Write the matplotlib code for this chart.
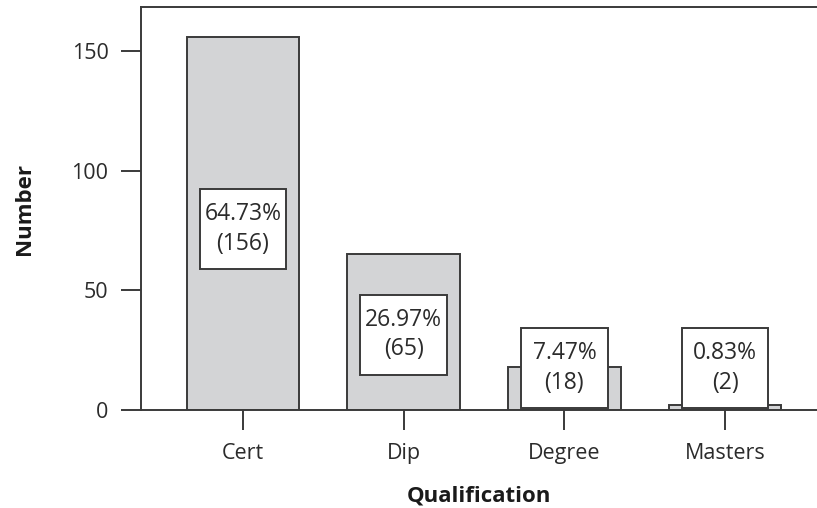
import matplotlib
matplotlib.use('Agg')
import matplotlib.pyplot as plt
from matplotlib.patches import Rectangle

plt.rcParams['font.family'] = ['Open Sans', 'DejaVu Sans']
plt.rcParams['font.size'] = 15.5

# Qualification counts and their shares
categories = ['Cert', 'Dip', 'Degree', 'Masters']
counts = [156, 65, 18, 2]
percents = ['64.73%', '26.97%', '7.47%', '0.83%']

edge = '#3a3a3a'
text_col = '#2b2b2b'

fig = plt.figure(figsize=(8.17, 5.08), dpi=100)
ax = fig.add_axes([0.1726, 0.1929, 0.8274, 0.7933])

x = list(range(len(categories)))
ax.bar(x, counts, width=0.70, color='#d3d4d6', edgecolor=edge, linewidth=1.4, zorder=2)

# Label boxes: fixed size, centred near mid-height of each bar
box_w, box_h = 0.54, 33.4
for i, (c, p) in enumerate(zip(counts, percents)):
    yc = max(c * 0.485, 17.5)
    ax.add_patch(Rectangle((i - box_w / 2, yc - box_h / 2), box_w, box_h,
                           facecolor='white', edgecolor=edge, linewidth=1.4, zorder=3))
    ax.text(i, yc, f'{p}\n({c})', ha='center', va='center', color=text_col,
            fontsize=16.5, linespacing=1.3, zorder=4)

ax.set_xlim(-0.635, 3.572)
ax.set_ylim(0, 168.4)
ax.set_yticks([0, 50, 100, 150])
ax.set_xticks(x)
ax.set_xticklabels(categories)

for s in ['left', 'top', 'bottom']:
    ax.spines[s].set_color(edge)
    ax.spines[s].set_linewidth(1.4)
ax.spines['right'].set_visible(False)

ax.tick_params(axis='y', length=14.4, width=1.4, color=edge, pad=9, labelcolor=text_col)
ax.tick_params(axis='x', length=14.4, width=1.4, color=edge, pad=9, labelcolor=text_col)

ax.set_ylabel('Number', fontweight='bold', fontsize=16, color='#1a1a1a', labelpad=26)
ax.set_xlabel('Qualification', fontweight='bold', fontsize=16, color='#1a1a1a', labelpad=16)

plt.savefig('out.png', dpi=100)
